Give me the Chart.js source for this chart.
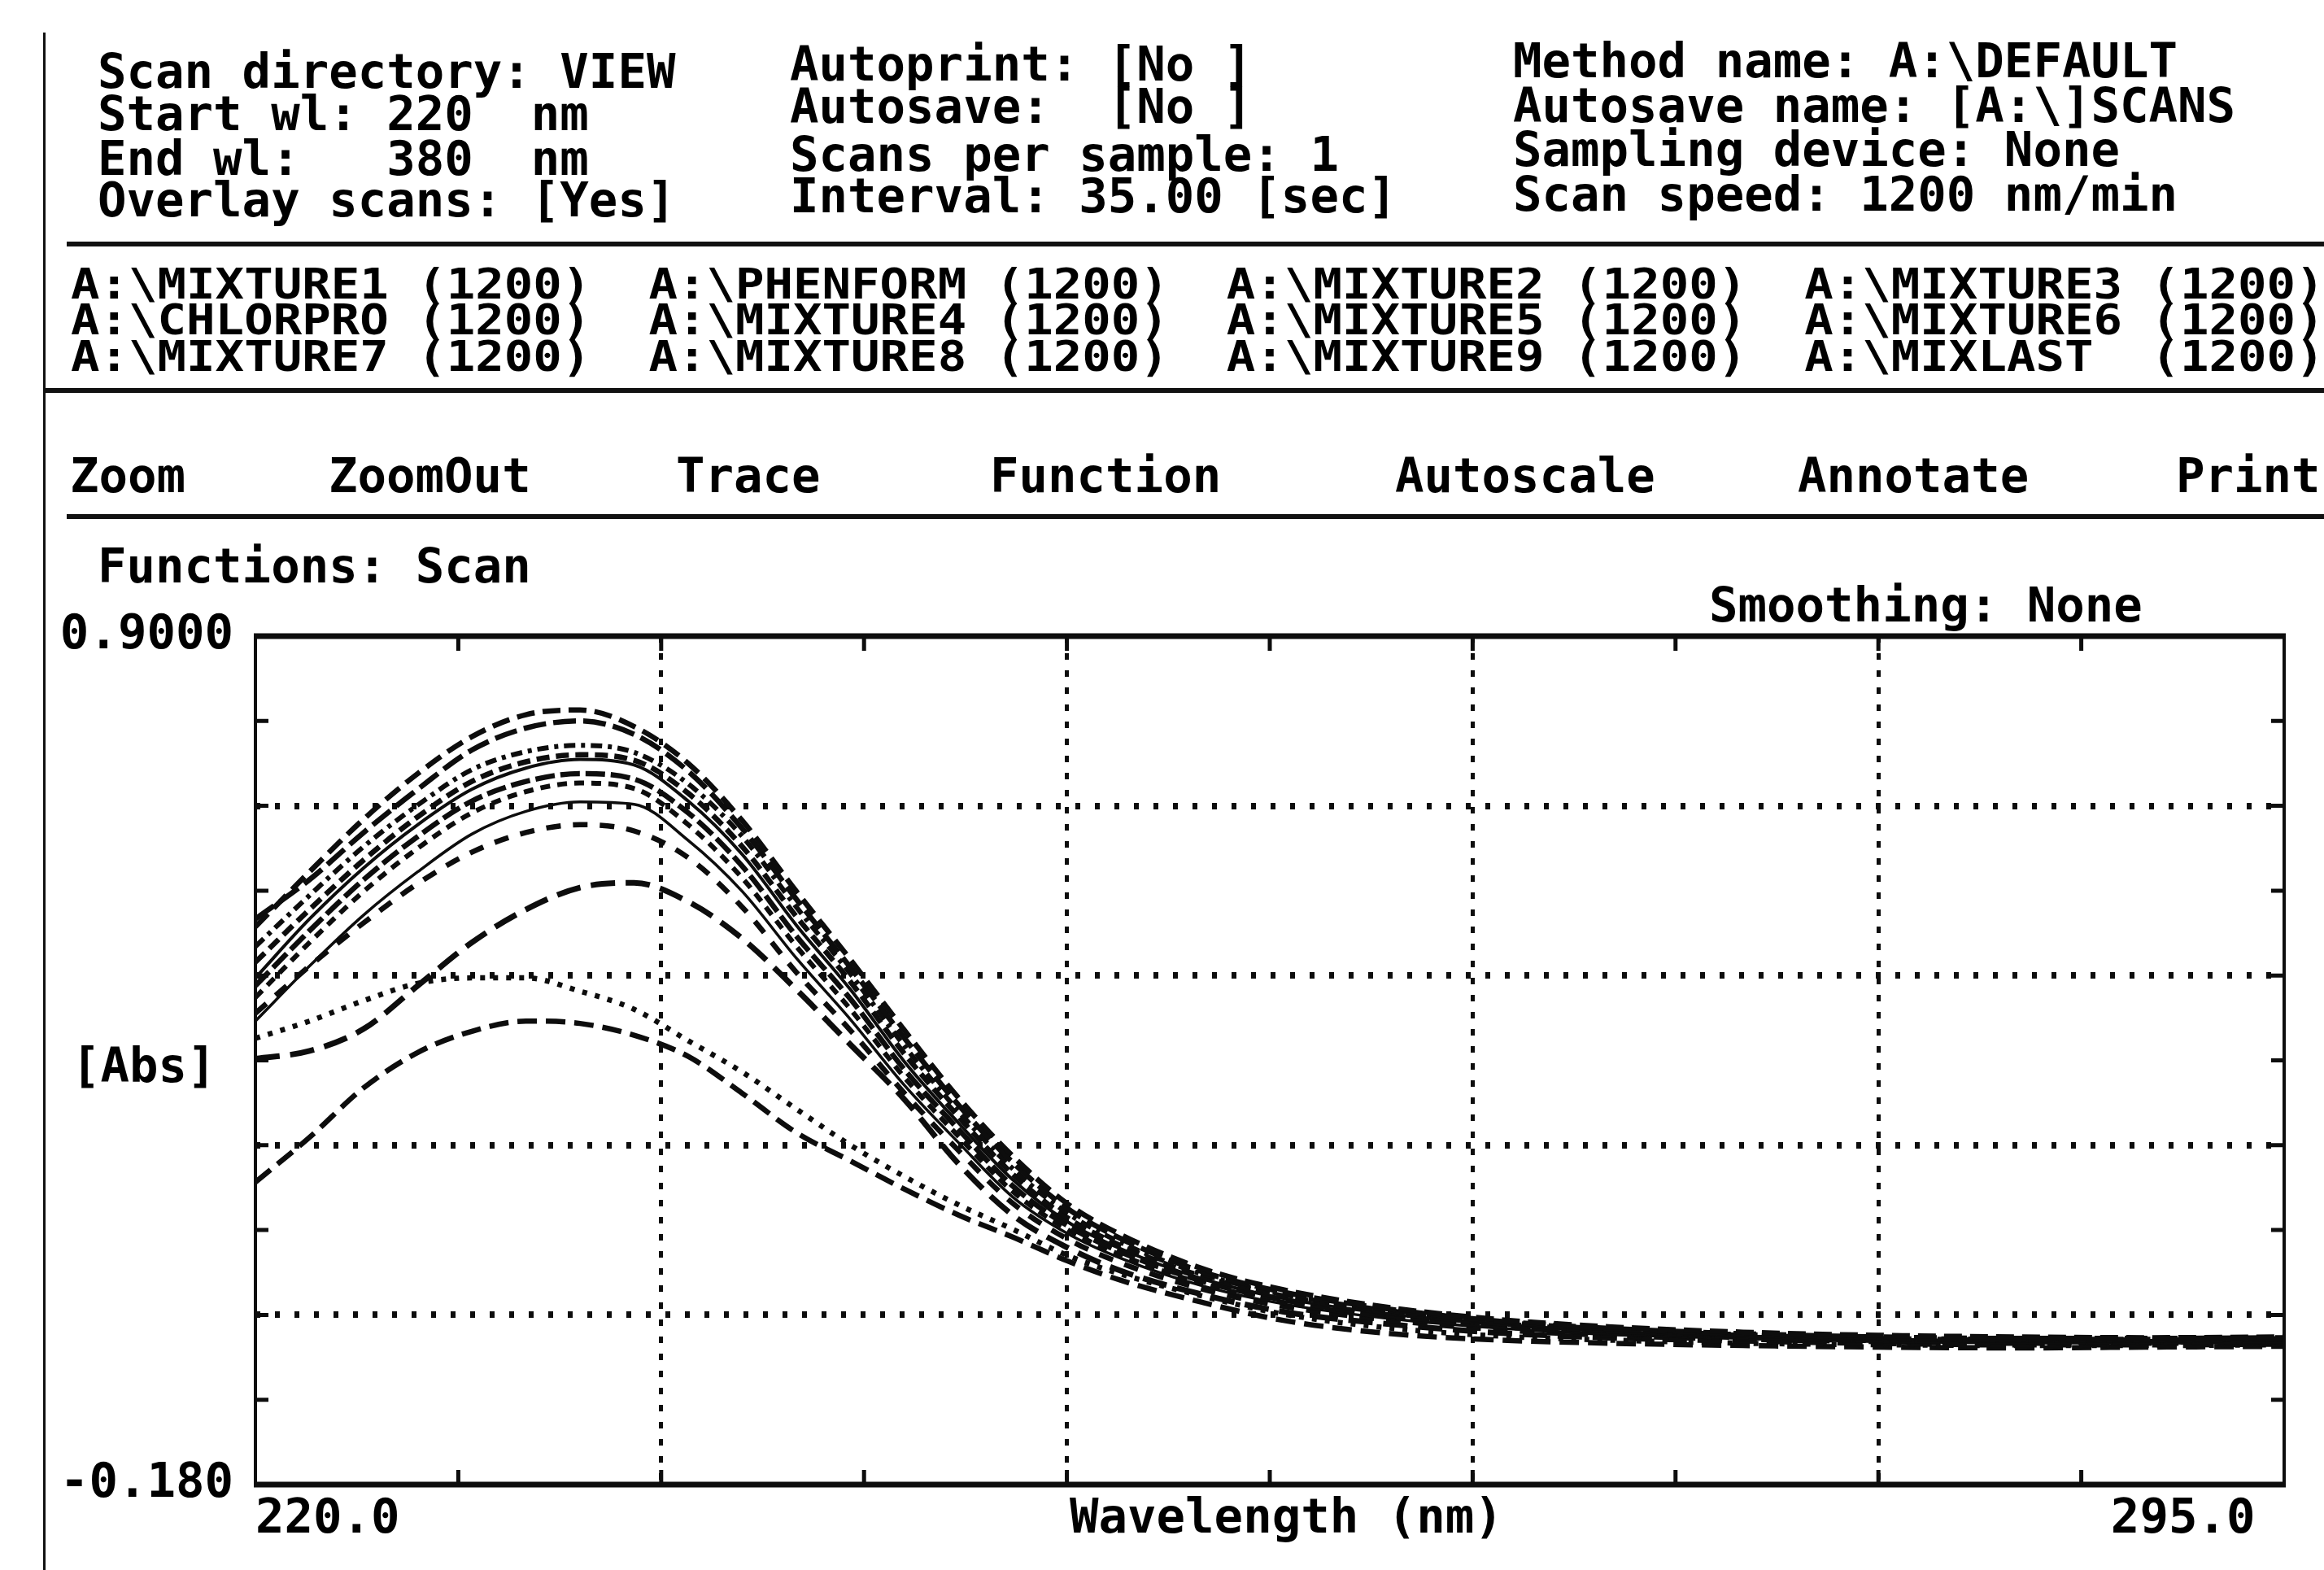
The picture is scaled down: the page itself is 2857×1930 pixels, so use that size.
<!DOCTYPE html>
<html><head><meta charset="utf-8">
<script src="https://cdn.jsdelivr.net/npm/chart.js@4.4.1/dist/chart.umd.min.js"></script>
<style>
html,body{margin:0;padding:0;background:#fff;}
#page{position:relative;width:2857px;height:1930px;overflow:hidden;background:#fff;}
.t{position:absolute;font-family:"DejaVu Sans Mono",monospace;font-weight:bold;font-size:59px;line-height:59px;color:#000;white-space:pre;}
.fl{transform:scaleY(0.86);transform-origin:0 0;}
.hl{position:absolute;background:#111;}
canvas{position:absolute;left:0;top:0;}
</style></head><body>
<div id="page">
  <div class="hl" style="left:53px;top:40px;width:3px;height:1890px;"></div>

  <div class="t" style="left:120px;top:58px;">Scan directory: VIEW</div>
  <div class="t" style="left:120px;top:110px;">Start wl: 220  nm</div>
  <div class="t" style="left:120px;top:165px;">End wl:   380  nm</div>
  <div class="t" style="left:120px;top:216px;">Overlay scans: [Yes]</div>

  <div class="t" style="left:971px;top:49px;">Autoprint: [No ]</div>
  <div class="t" style="left:971px;top:101px;">Autosave:  [No ]</div>
  <div class="t" style="left:971px;top:160px;">Scans per sample: 1</div>
  <div class="t" style="left:971px;top:211px;">Interval: 35.00 [sec]</div>

  <div class="t" style="left:1860px;top:45px;">Method name: A:\DEFAULT</div>
  <div class="t" style="left:1860px;top:100px;">Autosave name: [A:\]SCANS</div>
  <div class="t" style="left:1860px;top:154px;">Sampling device: None</div>
  <div class="t" style="left:1860px;top:209px;">Scan speed: 1200 nm/min</div>

  <div class="hl" style="left:82px;top:297px;width:2775px;height:6px;"></div>

  <div class="t fl" style="left:87px;top:324px;">A:\MIXTURE1 (1200)  A:\PHENFORM (1200)  A:\MIXTURE2 (1200)  A:\MIXTURE3 (1200)</div>
  <div class="t fl" style="left:87px;top:368px;">A:\CHLORPRO (1200)  A:\MIXTURE4 (1200)  A:\MIXTURE5 (1200)  A:\MIXTURE6 (1200)</div>
  <div class="t fl" style="left:87px;top:413px;">A:\MIXTURE7 (1200)  A:\MIXTURE8 (1200)  A:\MIXTURE9 (1200)  A:\MIXLAST  (1200)</div>

  <div class="hl" style="left:55px;top:477px;width:2802px;height:6px;"></div>

  <div class="t" style="left:86px;top:555px;">Zoom</div>
  <div class="t" style="left:404px;top:555px;">ZoomOut</div>
  <div class="t" style="left:831px;top:555px;">Trace</div>
  <div class="t" style="left:1217px;top:555px;">Function</div>
  <div class="t" style="left:1715px;top:555px;">Autoscale</div>
  <div class="t" style="left:2210px;top:555px;">Annotate</div>
  <div class="t" style="left:2675px;top:555px;">Print</div>

  <div class="hl" style="left:82px;top:632px;width:2775px;height:6px;"></div>

  <div class="t" style="left:120px;top:666px;">Functions: Scan</div>
  <div class="t" style="left:2101px;top:714px;">Smoothing: None</div>

  <div class="t" style="left:88px;top:1280px;">[Abs]</div>
  <div class="t" style="left:1315px;top:1834px;">Wavelength (nm)</div>

  <canvas id="c" width="2857" height="1930"></canvas>
</div>
<script>
// ---- data ----
const wavelengths = [220,222,224,226,228,230,232,234,236,238,240,242,244,246,248,250,252,255,258,262,266,270,275,280,285,290,295];

const mixture1 = [0.530,0.600,0.667,0.725,0.772,0.800,0.806,0.785,0.738,0.665,0.575,0.488,0.398,0.312,0.238,0.178,0.138,0.095,0.068,0.045,0.030,0.021,0.014,0.010,0.008,0.007,0.008];
const mixture2 = [0.540,0.590,0.650,0.705,0.755,0.783,0.792,0.775,0.728,0.655,0.565,0.478,0.388,0.303,0.230,0.172,0.133,0.091,0.065,0.043,0.028,0.019,0.012,0.008,0.006,0.006,0.007];
const mixture3 = [0.505,0.570,0.632,0.685,0.730,0.753,0.761,0.752,0.712,0.645,0.555,0.470,0.378,0.295,0.222,0.166,0.128,0.088,0.062,0.041,0.027,0.018,0.011,0.007,0.005,0.005,0.006];
const mixture4 = [0.485,0.552,0.615,0.670,0.715,0.740,0.749,0.742,0.700,0.632,0.543,0.460,0.368,0.288,0.215,0.160,0.124,0.085,0.060,0.039,0.025,0.016,0.010,0.006,0.004,0.004,0.005];
const mixture5 = [0.465,0.540,0.605,0.660,0.705,0.732,0.743,0.736,0.690,0.622,0.532,0.450,0.358,0.280,0.208,0.155,0.120,0.082,0.057,0.037,0.024,0.015,0.009,0.005,0.003,0.003,0.004];
const mixture6 = [0.455,0.525,0.590,0.645,0.690,0.715,0.725,0.718,0.675,0.607,0.518,0.438,0.348,0.272,0.200,0.150,0.116,0.079,0.055,0.035,0.022,0.014,0.008,0.004,0.002,0.002,0.003];
const mixture7 = [0.440,0.510,0.575,0.630,0.675,0.702,0.713,0.706,0.660,0.592,0.505,0.425,0.338,0.263,0.193,0.145,0.112,0.076,0.052,0.033,0.021,0.013,0.007,0.003,0.002,0.001,0.002];
const mixture8 = [0.410,0.480,0.545,0.600,0.648,0.677,0.689,0.686,0.640,0.575,0.490,0.412,0.328,0.255,0.186,0.140,0.108,0.073,0.050,0.031,0.019,0.011,0.006,0.002,0.001,0.000,0.001];
const mixture9 = [0.420,0.480,0.535,0.585,0.625,0.650,0.660,0.652,0.618,0.555,0.472,0.398,0.318,0.245,0.178,0.133,0.102,0.069,0.047,0.029,0.017,0.010,0.005,0.002,0.000,0.000,0.000];
const mixlast  = [0.362,0.372,0.400,0.455,0.510,0.552,0.580,0.586,0.562,0.515,0.450,0.380,0.310,0.228,0.163,0.122,0.092,0.062,0.040,0.024,0.013,0.007,0.003,0.000,-0.002,-0.002,-0.001];
const chlorpro = [0.388,0.410,0.436,0.458,0.465,0.465,0.448,0.425,0.385,0.345,0.298,0.252,0.212,0.176,0.145,0.112,0.088,0.060,0.037,0.019,0.009,0.004,0.000,-0.002,-0.003,-0.003,-0.002];
const phenform = [0.205,0.262,0.325,0.370,0.397,0.410,0.407,0.392,0.365,0.318,0.268,0.232,0.196,0.163,0.135,0.105,0.080,0.052,0.029,0.012,0.004,0.000,-0.003,-0.005,-0.006,-0.005,-0.004];

const seriesNames  = ['A:\\MIXTURE1','A:\\MIXTURE2','A:\\MIXTURE3','A:\\MIXTURE4','A:\\MIXTURE5','A:\\MIXTURE6','A:\\MIXTURE7','A:\\MIXTURE8','A:\\MIXTURE9','A:\\MIXLAST','A:\\CHLORPRO','A:\\PHENFORM'];
const seriesValues = [mixture1,mixture2,mixture3,mixture4,mixture5,mixture6,mixture7,mixture8,mixture9,mixlast,chlorpro,phenform];

const xMin = 220, xMax = 295, xStep = 7.5, xMajor = 15;
const yMin = -0.18, yMax = 0.9, yStep = 0.108, yMajor = 0.216;
const xLabelValues = [220, 295];
const xLabelTexts  = ['220.0', '295.0 '];
const yLabelValues = [0.9, -0.18];
const yLabelTexts  = ['0.9000', '-0.180'];

// ---- styles ----
const seriesDash  = [[22,10],[28,9],[14,7,5,7],[16,8],[],[24,7],[12,9],[],[18,15],[30,13],[6,10],[24,11]];
const seriesWidth = [6.5,6.5,6,6.5,4,6.5,6,3.5,6.5,7,6.5,6.5];
const INK = '#0d0d0d';
const FONT = {family:'"DejaVu Sans Mono", monospace', size:59, weight:'bold'};

function near(a,b){return Math.abs(a-b)<1e-6;}
function isMajor(v,min,max,step){
  const k=(v-min)/step; return Math.abs(k-Math.round(k))<1e-6 && v>min+1e-6 && v<max-1e-6;
}

const datasets = seriesNames.map((n,i)=>({
  label:n,
  data: wavelengths.map((w,j)=>({x:w,y:seriesValues[i][j]})),
  borderColor:INK, borderWidth:seriesWidth[i], borderDash:seriesDash[i],
  pointRadius:0, fill:false, cubicInterpolationMode:'monotone'
}));

const framePlugin = {
  id:'frame',
  afterDraw(chart){
    const {ctx, chartArea:a, scales:{x,y}} = chart;
    ctx.save();
    ctx.strokeStyle = INK;
    ctx.lineWidth = 5;
    x.ticks.forEach(t=>{
      if(t.value<=xMin+1e-6||t.value>=xMax-1e-6) return;
      const p=x.getPixelForValue(t.value);
      ctx.beginPath();
      ctx.moveTo(p,a.top); ctx.lineTo(p,a.top+18);
      ctx.moveTo(p,a.bottom); ctx.lineTo(p,a.bottom-18);
      ctx.stroke();
    });
    y.ticks.forEach(t=>{
      if(t.value<=yMin+1e-6||t.value>=yMax-1e-6) return;
      const p=y.getPixelForValue(t.value);
      ctx.beginPath();
      ctx.moveTo(a.left,p); ctx.lineTo(a.left+16,p);
      ctx.moveTo(a.right,p); ctx.lineTo(a.right-16,p);
      ctx.stroke();
    });
    ctx.lineWidth = 7;
    ctx.beginPath();
    ctx.moveTo(a.left-2,a.top); ctx.lineTo(a.right+2,a.top);
    ctx.moveTo(a.left-2,a.bottom); ctx.lineTo(a.right+2,a.bottom);
    ctx.stroke();
    ctx.lineWidth = 4;
    ctx.beginPath();
    ctx.moveTo(a.left,a.top); ctx.lineTo(a.left,a.bottom);
    ctx.moveTo(a.right,a.top); ctx.lineTo(a.right,a.bottom);
    ctx.stroke();
    ctx.restore();
  }
};

new Chart(document.getElementById('c'), {
  type:'line',
  data:{datasets},
  options:{
    responsive:false, animation:false, devicePixelRatio:1,
    layout:{padding:{top:782,right:49,bottom:0,left:0}},
    plugins:{legend:{display:false}, tooltip:{enabled:false}},
    scales:{
      x:{
        type:'linear', min:xMin, max:xMax,
        afterFit(s){ s.height = 105; },
        grid:{
          drawTicks:false, lineWidth:5,
          color:c=>isMajor(c.tick.value,xMin,xMax,xMajor)?INK:'rgba(0,0,0,0)'
        },
        border:{display:false, dash:[8,13]},
        ticks:{
          stepSize:xStep, autoSkip:false, maxRotation:0, align:'inner', padding:8,
          font:FONT, color:'#000',
          callback:v=>{const k=xLabelValues.findIndex(q=>near(q,v)); return k>=0?xLabelTexts[k]:'';}
        }
      },
      y:{
        type:'linear', min:yMin, max:yMax,
        afterFit(s){ s.width = 314; },
        grid:{
          drawTicks:false, lineWidth:8,
          color:c=>isMajor(c.tick.value,yMin,yMax,yMajor)?INK:'rgba(0,0,0,0)'
        },
        border:{display:false, dash:[6,18]},
        ticks:{
          stepSize:yStep, autoSkip:false, padding:27,
          font:FONT, color:'#000',
          callback:v=>{const k=yLabelValues.findIndex(q=>near(q,v)); return k>=0?yLabelTexts[k]:'';}
        }
      }
    }
  },
  plugins:[framePlugin]
});
</script>
</body></html>
